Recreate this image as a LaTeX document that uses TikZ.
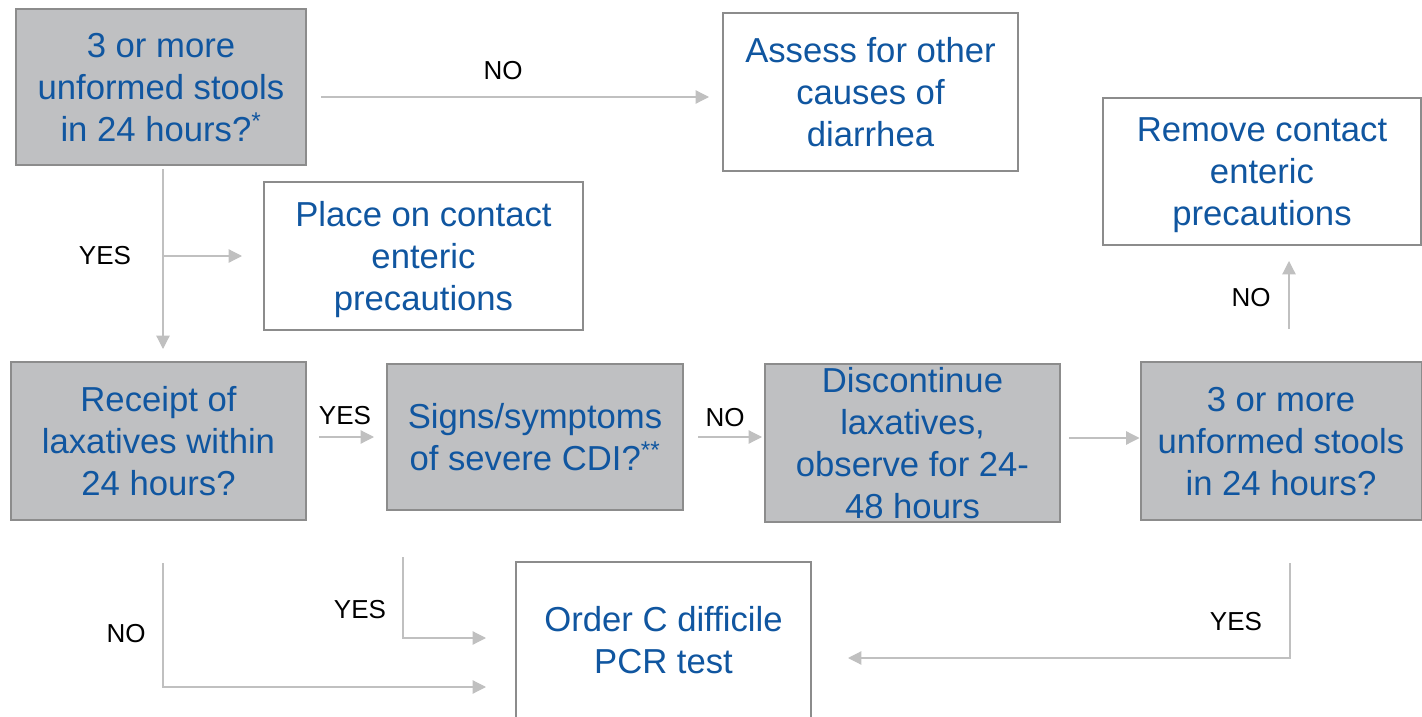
\documentclass[tikz,border=0pt]{standalone}
\usepackage{fontspec}
\setmainfont{Liberation Sans}
\usetikzlibrary{arrows.meta}

\definecolor{boxgray}{RGB}{191,192,194}
\definecolor{edgegray}{RGB}{140,140,140}
\definecolor{linegray}{RGB}{192,192,192}
\definecolor{textblue}{RGB}{16,86,160}

\begin{document}
\begin{tikzpicture}[x=0.75pt, y=-0.75pt, >={Triangle[length=10pt,width=10pt]},
  dims/.style 2 args={minimum width=#1*0.75pt, minimum height=#2*0.75pt},
  qbox/.style={draw=edgegray, line width=1.5pt, fill=boxgray, inner sep=0pt,
    align=center, text=textblue, font=\fontsize{26}{31.5}\selectfont,
    text depth=-3pt},
  abox/.style={qbox, fill=white},
  lbl/.style={font=\fontsize{19.5}{23}\selectfont},
  flow/.style={->, draw=linegray, line width=0.9pt}]

\clip (0,0) rectangle (1422,717);

% Question boxes
\node[qbox, text depth=-5pt, dims={290}{156}] (q1) at (161,87) {3 or more\\unformed stools\\in 24 hours?\textsuperscript{*}};
\node[qbox, dims={295}{158}] (laxa) at (158.5,441) {Receipt of\\laxatives within\\24 hours?};
\node[qbox, text depth=0pt, dims={296}{146}] (signs) at (535,437) {Signs/symptoms\\of severe CDI?\textsuperscript{**}};
\node[qbox, dims={295}{158}] (disc) at (912.5,443) {Discontinue\\laxatives,\\observe for 24-\\48 hours};
\node[qbox, dims={281}{158}] (q2) at (1281,441) {3 or more\\unformed stools\\in 24 hours?};

% Action boxes
\node[abox, dims={295}{158}] (other) at (870.5,92) {Assess for other\\causes of\\diarrhea};
\node[abox, dims={319}{148}] (place) at (423.5,256) {Place on contact\\enteric\\precautions};
\node[abox, dims={318}{147}] (remove) at (1262,171.5) {Remove contact\\enteric\\precautions};
\node[abox, dims={295}{156}] (order) at (663.5,640) {Order C difficile\\PCR test};

% Connectors
\coordinate (c1) at ([shift={(14,10)}]q1.east);
\draw[flow, shorten >=9.75pt] (c1) -- (c1 -| other.west);
\coordinate (c2) at ([shift={(2,3)}]q1.south);
\draw[flow, shorten >=9pt] (c2) -- (c2 |- laxa.north);
\coordinate (c3) at ([shift={(2,90)}]q1.south);
\draw[flow, shorten >=15.75pt] (c3) -- (c3 -| place.west);
\coordinate (c4) at ([shift={(12,-4)}]laxa.east);
\draw[flow, shorten >=9pt] (c4) -- (c4 -| signs.west);
\coordinate (c5) at ([shift={(14,0)}]signs.east);
\draw[flow, shorten >=1.5pt] (c5) -- (c5 -| disc.west);
\coordinate (c6) at ([shift={(8,-5)}]disc.east);
\draw[flow] (c6) -- (c6 -| q2.west);
\coordinate (c7) at ([shift={(8,-32)}]q2.north);
\draw[flow, shorten >=11.25pt] (c7) -- (c7 |- remove.south);
\draw[flow, shorten >=21.75pt] ([shift={(4.5,42)}]laxa.south) |- ([shift={(0,47)}]order.west);
\draw[flow, shorten >=21.75pt] ([shift={(-132,46)}]signs.south) |- ([shift={(0,-2)}]order.west);
\draw[flow, shorten >=27pt] ([shift={(9,42)}]q2.south) |- ([shift={(0,18)}]order.east);

% Labels
\node[lbl] (no1) at (503,71) {NO};
\node[lbl] (yes1) at (105,256) {YES};
\node[lbl] (yes2) at (345,416) {YES};
\node[lbl] (no2) at (725,418) {NO};
\node[lbl] (no3) at (1251,298) {NO};
\node[lbl] (no4) at (126,634) {NO};
\node[lbl] (yes3) at (360,610) {YES};
\node[lbl] (yes4) at (1236,622) {YES};

\end{tikzpicture}
\end{document}
